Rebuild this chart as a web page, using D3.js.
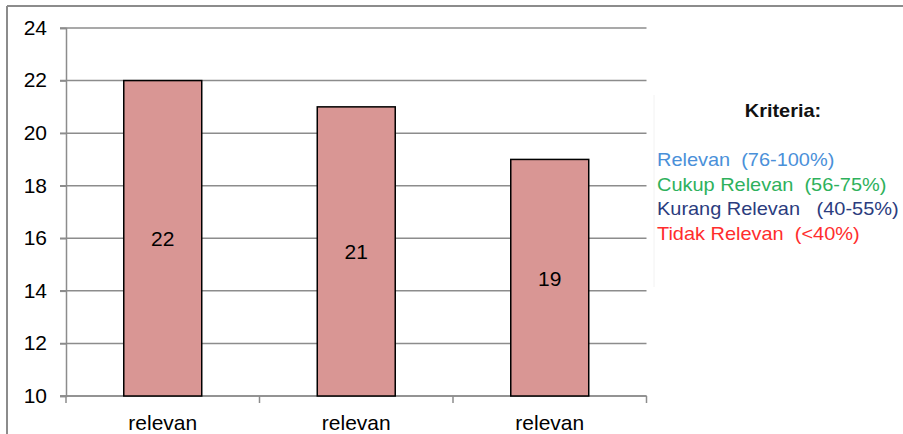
<!DOCTYPE html>
<html>
<head>
<meta charset="utf-8">
<script src="https://cdn.jsdelivr.net/npm/d3@7"></script>
<style>
  html, body { margin: 0; padding: 0; background: #fff; }
  svg { display: block; font-family: "Liberation Sans", Arial, sans-serif; }
  text { white-space: pre; }
</style>
</head>
<body>
<svg id="chart" width="903" height="434"></svg>
<script>
// ---- data ----
const categories = ["relevan", "relevan", "relevan"];
const values = [22, 21, 19];
const yTicks = [10, 12, 14, 16, 18, 20, 22, 24];
const legendTitle = "Kriteria:";
const legendLabels = ["Relevan  (76-100%)", "Cukup Relevan  (56-75%)", "Kurang Relevan   (40-55%)", "Tidak Relevan  (<40%)"];
const legendColors = ["#4a90d9", "#2eb15c", "#2b3c7e", "#ff2d2d"];

// ---- layout ----
const svg = d3.select("#chart");
const plot = { left: 66, right: 646.5, top: 28, bottom: 396 };
const SX = 1.05; // slight horizontal stretch of the text in the reference
const FS = 20;
const LFS = 19;

const x = d3.scaleBand().domain(d3.range(categories.length)).range([plot.left, plot.right]).padding(0);
const y = d3.scaleLinear().domain([10, 24]).range([plot.bottom, plot.top]);
const barFrac = 0.403;

// outer frame (top + left)
svg.append("line").attr("x1", 7).attr("x2", 903).attr("y1", 6).attr("y2", 6)
  .attr("stroke", "#8c8c8c").attr("stroke-width", 2);
svg.append("line").attr("x1", 7).attr("x2", 7).attr("y1", 6).attr("y2", 434)
  .attr("stroke", "#8c8c8c").attr("stroke-width", 2);

// gridlines
svg.append("g").selectAll("line").data(yTicks).join("line")
  .attr("x1", plot.left - 6).attr("x2", plot.right)
  .attr("y1", d => y(d)).attr("y2", d => y(d))
  .attr("stroke", "#8c8c8c").attr("stroke-width", 1.5);

// y axis
const yAxis = svg.append("g").attr("transform", `translate(${plot.left},0)`)
  .call(d3.axisLeft(y).tickValues(yTicks).tickSize(6).tickPadding(12));
yAxis.select(".domain").attr("stroke", "#8c8c8c").attr("stroke-width", 1.5);
yAxis.selectAll(".tick line").attr("stroke", "#8c8c8c").attr("stroke-width", 1.5);
yAxis.selectAll(".tick text")
  .attr("font-size", FS).attr("fill", "#000")
  .attr("font-family", "Liberation Sans, Arial, sans-serif")
  .attr("transform", `scale(${SX},1)`)
  .attr("x", -19 / SX);

// x axis
const xAxisScale = d3.scalePoint().domain(d3.range(categories.length + 1)).range([plot.left, plot.right]);
svg.append("g").selectAll("line").data(d3.range(categories.length + 1)).join("line")
  .attr("x1", d => xAxisScale(d)).attr("x2", d => xAxisScale(d))
  .attr("y1", plot.bottom).attr("y2", plot.bottom + 7)
  .attr("stroke", "#8c8c8c").attr("stroke-width", 1.5);
svg.append("line").attr("x1", plot.left - 6).attr("x2", plot.right)
  .attr("y1", plot.bottom).attr("y2", plot.bottom)
  .attr("stroke", "#8c8c8c").attr("stroke-width", 1.5);

// bars
const bars = svg.append("g");
bars.selectAll("rect").data(values).join("rect")
  .attr("x", (d, i) => x(i) + x.bandwidth() * (1 - barFrac) / 2)
  .attr("width", x.bandwidth() * barFrac)
  .attr("y", d => y(d))
  .attr("height", d => y(10) - y(d))
  .attr("fill", "#d99694").attr("stroke", "#000").attr("stroke-width", 1.5);

// value labels
svg.append("g").selectAll("text").data(values).join("text")
  .attr("transform", (d, i) => `translate(${x(i) + x.bandwidth() / 2},${(y(d) + y(10)) / 2 + 8}) scale(${SX},1)`)
  .attr("text-anchor", "middle").attr("font-size", FS).attr("fill", "#000")
  .text(d => d);

// category labels
svg.append("g").selectAll("text").data(categories).join("text")
  .attr("transform", (d, i) => `translate(${x(i) + x.bandwidth() / 2},430) scale(${SX},1)`)
  .attr("text-anchor", "middle").attr("font-size", FS).attr("fill", "#000")
  .text(d => d);

// legend box
const lg = svg.append("g");
lg.append("rect").attr("x", 654).attr("y", 95).attr("width", 260).attr("height", 192)
  .attr("fill", "#fff");
lg.append("line").attr("x1", 654).attr("x2", 654).attr("y1", 95).attr("y2", 287)
  .attr("stroke", "#f2f2f2").attr("stroke-width", 1);
lg.append("text")
  .attr("transform", `translate(783,117) scale(${SX},1)`)
  .attr("text-anchor", "middle").attr("font-size", LFS).attr("font-weight", "bold").attr("fill", "#111")
  .text(legendTitle);
const legendY = d3.scalePoint().domain(d3.range(legendLabels.length)).range([166, 240]);
lg.selectAll("text.item").data(legendLabels).join("text").attr("class", "item")
  .attr("transform", (d, i) => `translate(657,${legendY(i)}) scale(${SX},1)`)
  .attr("font-size", LFS).attr("fill", (d, i) => legendColors[i])
  .text(d => d);
</script>
</body>
</html>
